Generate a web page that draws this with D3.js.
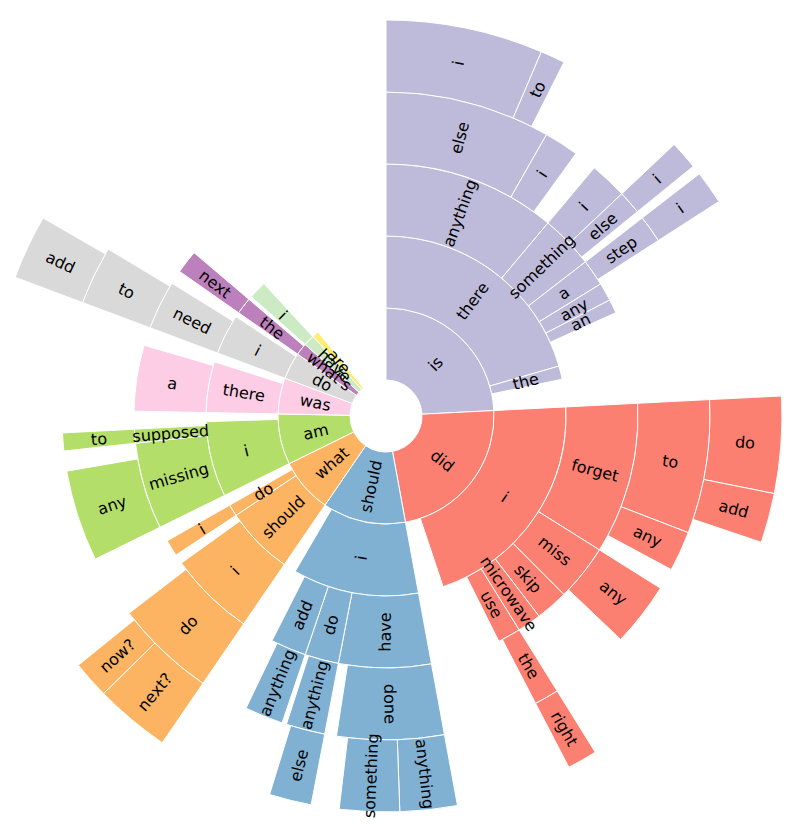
<!DOCTYPE html>
<html>
<head>
<meta charset="utf-8">
<script src="https://cdn.jsdelivr.net/npm/d3@7"></script>
<style>
  body { margin: 0; background: #fff; }
  svg text { font-family: "DejaVu Sans", sans-serif; font-size: 16px; fill: #000; }
</style>
</head>
<body>
<svg width="797" height="824"></svg>
<script>
// Word paths, read from the centre outwards.
const phrases = [
    "is there anything else i", "is there anything else to", "is there anything else",
    "is there anything i", "is there anything",
    "is there something i", "is there something else i", "is there something",
    "is there a step i", "is there a", "is there any", "is there an", "is there",
    "is the", "is",
    "did i forget to do", "did i forget to add", "did i forget to", "did i forget any",
    "did i forget", "did i miss any", "did i miss", "did i skip", "did i microwave",
    "did i use the right", "did i use", "did i", "did",
    "should i have done anything", "should i have done something", "should i have done",
    "should i have", "should i do anything else", "should i do anything", "should i do",
    "should i add anything", "should i add", "should i", "should",
    "what should i do next?", "what should i do now?", "what should i do",
    "what should i", "what should", "what do i", "what",
    "am i missing any", "am i missing", "am i supposed to", "am i", "am",
    "was there a", "was there", "was",
    "do i need to add", "do i need to", "do i need", "do i", "do",
    "what's the next", "what's",
    "have i", "have",
    "are"
];

// How many sentences end at each path (same order as phrases).
const counts = [
    23.1, 3.6, 3.0,
    6.2, 4.1,
    6.7, 4.2, 1.4,
    4.9, 1.2, 4.2, 3.2, 8.1,
    4.3, 8.9,
    14.2, 7.3, 2.5, 7.2,
    3.8, 11.5, 1.5, 7.5, 5.5,
    4.4, 0.9, 8.1, 8.1,
    8.4, 8.8, 2.0,
    2.1, 6.2, 0.8, 0.8,
    6.9, 1.3, 3.4, 4.1,
    11.1, 5.5, 1.5,
    1.8, 2.2, 3.8, 3.5,
    16.4, 3.6, 3.2, 1.2, 2.9,
    15.2, 1.2, 3.0,
    9.5, 1.0, 0.8, 1.7, 1.5,
    5.4, 1.1,
    5.8, 0.2,
    3.5
];

// Count that would fill the whole circle.
const circleTotal = 360;

const cx = 386, cy = 416;
const innerRadius = 36, outerRadius = 396;

// Turn the phrases into a word tree.
const treeData = { name: "root", children: [] };
phrases.forEach((phrase, i) => {
    let node = treeData;
    phrase.split(" ").forEach(word => {
        let child = node.children.find(c => c.name === word);
        if (!child) {
            child = { name: word, children: [] };
            node.children.push(child);
        }
        node = child;
    });
    node.count = (node.count || 0) + counts[i];
});

const root = d3.hierarchy(treeData).sum(d => d.count || 0);

const angle = d3.scaleLinear().domain([0, circleTotal]).range([0, 2 * Math.PI]);
const levels = root.height;
d3.partition().size([angle(root.value), levels + 1])(root);

const radius = d3.scaleLinear().domain([1, levels + 1]).range([innerRadius, outerRadius]);

const color = d3.scaleOrdinal(root.children.map(d => d.data.name), d3.schemeSet3.slice(2));

const arc = d3.arc()
    .startAngle(d => d.x0)
    .endAngle(d => d.x1)
    .innerRadius(d => radius(d.y0))
    .outerRadius(d => radius(d.y1));

const svg = d3.select("svg")
    .append("g")
    .attr("transform", `translate(${cx},${cy})`);

const nodes = root.descendants().filter(d => d.depth > 0);

svg.selectAll("path")
    .data(nodes)
    .join("path")
    .attr("d", arc)
    .attr("fill", d => {
        while (d.depth > 1) d = d.parent;
        return color(d.data.name);
    })
    .attr("stroke", "#fff")
    .attr("stroke-width", 1);

svg.selectAll("text")
    .data(nodes)
    .join("text")
    .attr("transform", d => {
        const a = (d.x0 + d.x1) / 2 * 180 / Math.PI;
        const r = (radius(d.y0) + radius(d.y1)) / 2;
        return `rotate(${a - 90}) translate(${r},0) rotate(${a < 180 ? 0 : 180})`;
    })
    .attr("text-anchor", "middle")
    .attr("dy", "0.35em")
    .text(d => d.data.name);
</script>
</body>
</html>
